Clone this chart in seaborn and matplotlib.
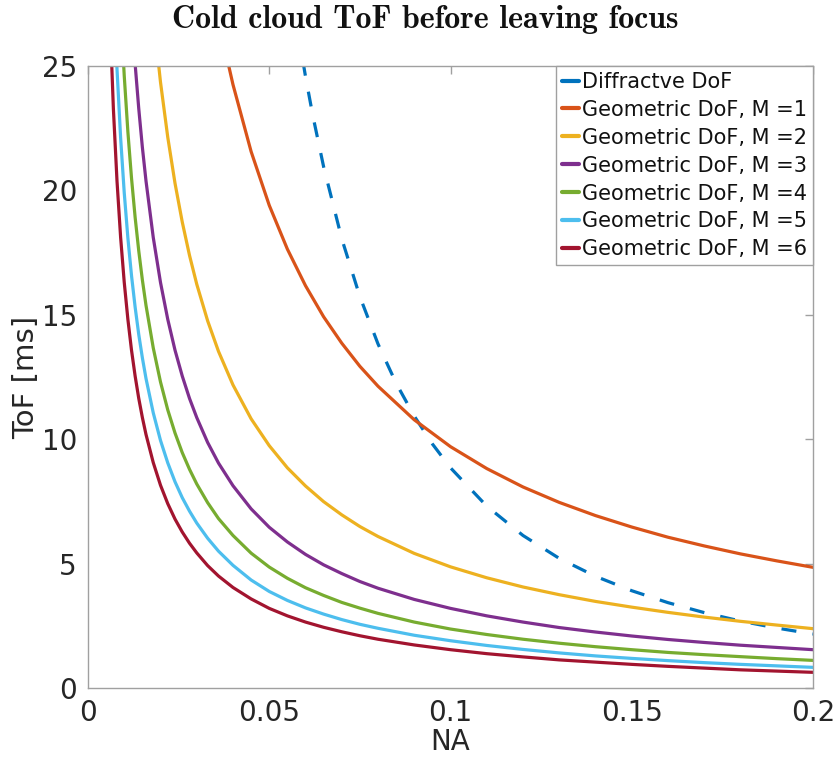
import matplotlib
matplotlib.use("Agg")
import matplotlib.pyplot as plt
import seaborn as sns
import pandas as pd

# ---------------- data ----------------
series_labels = ["Diffractve DoF",
                 "Geometric DoF, M =1", "Geometric DoF, M =2", "Geometric DoF, M =3",
                 "Geometric DoF, M =4", "Geometric DoF, M =5", "Geometric DoF, M =6"]

na_diffractive = [0.055, 0.058, 0.060, 0.062, 0.065, 0.070, 0.075, 0.080, 0.085, 0.090,
                  0.095, 0.100, 0.110, 0.120, 0.130, 0.140, 0.150, 0.160, 0.170, 0.180,
                  0.190, 0.200]
tof_diffractive = [29.26, 26.31, 24.58, 23.02, 20.95, 18.06, 15.73, 13.83, 12.25, 10.93,
                   9.81, 8.85, 7.31, 6.13, 5.21, 4.49, 3.91, 3.43, 3.03, 2.69,
                   2.41, 2.17]

na_m1 = [0.035, 0.038, 0.040, 0.045, 0.050, 0.055, 0.060, 0.065, 0.070, 0.075, 0.080,
         0.090, 0.100, 0.110, 0.120, 0.130, 0.140, 0.150, 0.160, 0.170, 0.180, 0.190, 0.200]
tof_m1 = [27.71, 25.53, 24.25, 21.56, 19.40, 17.64, 16.17, 14.92, 13.86, 12.93, 12.13,
          10.78, 9.70, 8.82, 8.08, 7.46, 6.93, 6.47, 6.06, 5.71, 5.39, 5.11, 4.85]

na_common = [0.005, 0.006, 0.007, 0.008, 0.009, 0.010, 0.011, 0.012, 0.013, 0.014,
             0.015, 0.016, 0.018, 0.020, 0.022, 0.024, 0.026, 0.028, 0.030, 0.033,
             0.036, 0.040, 0.045, 0.050, 0.055, 0.060, 0.065, 0.070, 0.075, 0.080,
             0.090, 0.100, 0.110, 0.120, 0.130, 0.140, 0.150, 0.160, 0.170, 0.180,
             0.190, 0.200]
tof_m2 = [97.4, 81.17, 69.57, 60.88, 54.11, 48.70, 44.27, 40.58, 37.46, 34.79,
          32.47, 30.44, 27.06, 24.35, 22.14, 20.29, 18.73, 17.39, 16.23, 14.76,
          13.53, 12.18, 10.82, 9.74, 8.85, 8.12, 7.49, 6.96, 6.49, 6.09,
          5.41, 4.87, 4.43, 4.06, 3.75, 3.48, 3.25, 3.04, 2.85, 2.68,
          2.53, 2.385]
tof_m3 = [65.2, 54.33, 46.57, 40.75, 36.22, 32.60, 29.64, 27.17, 25.08, 23.29,
          21.73, 20.38, 18.11, 16.30, 14.82, 13.58, 12.54, 11.64, 10.87, 9.87,
          9.04, 8.13, 7.20, 6.46, 5.87, 5.37, 4.95, 4.60, 4.28, 4.01,
          3.56, 3.20, 2.90, 2.65, 2.43, 2.25, 2.09, 1.95, 1.83, 1.72,
          1.63, 1.54]
tof_m4 = [49.2, 41.0, 35.14, 30.75, 27.33, 24.60, 22.36, 20.50, 18.92, 17.57,
          16.40, 15.38, 13.67, 12.30, 11.18, 10.25, 9.46, 8.79, 8.20, 7.45,
          6.81, 6.13, 5.42, 4.86, 4.41, 4.03, 3.72, 3.44, 3.21, 3.00,
          2.65, 2.37, 2.15, 1.96, 1.80, 1.66, 1.54, 1.43, 1.34, 1.26,
          1.18, 1.11]
tof_m5 = [39.8, 33.17, 28.43, 24.88, 22.11, 19.90, 18.09, 16.58, 15.31, 14.21,
          13.27, 12.44, 11.06, 9.95, 9.05, 8.29, 7.65, 7.11, 6.63, 6.02,
          5.50, 4.93, 4.34, 3.88, 3.52, 3.22, 2.97, 2.75, 2.56, 2.40,
          2.12, 1.90, 1.71, 1.55, 1.41, 1.29, 1.19, 1.10, 1.02, 0.95,
          0.89, 0.83]
tof_m6 = [32.6, 27.17, 23.29, 20.38, 18.11, 16.30, 14.82, 13.58, 12.54, 11.64,
          10.87, 10.19, 9.06, 8.15, 7.41, 6.79, 6.27, 5.82, 5.43, 4.92,
          4.50, 4.04, 3.58, 3.20, 2.90, 2.65, 2.44, 2.26, 2.10, 1.96,
          1.73, 1.54, 1.38, 1.25, 1.13, 1.04, 0.95, 0.87, 0.80, 0.73,
          0.68, 0.63]

x_ticks = [0, 0.05, 0.1, 0.15, 0.2]
x_tick_labels = ["0", "0.05", "0.1", "0.15", "0.2"]
y_ticks = [0, 5, 10, 15, 20, 25]
y_tick_labels = ["0", "5", "10", "15", "20", "25"]

# ---------------- build long table ----------------
parts = [(series_labels[0], na_diffractive, tof_diffractive),
         (series_labels[1], na_m1, tof_m1),
         (series_labels[2], na_common, tof_m2),
         (series_labels[3], na_common, tof_m3),
         (series_labels[4], na_common, tof_m4),
         (series_labels[5], na_common, tof_m5),
         (series_labels[6], na_common, tof_m6)]
frames = [pd.DataFrame({"NA": xs, "ToF": ys, "series": lab}) for lab, xs, ys in parts]
df = pd.concat(frames, ignore_index=True)

colors = ["#0072BD", "#D95319", "#EDB120", "#7E2F8E", "#77AC30", "#4DBEEE", "#A2142F"]
palette = dict(zip(series_labels, colors))
dashes = {lab: "" for lab in series_labels}
dashes[series_labels[0]] = (4.7, 5.1)

# ---------------- plotting ----------------
sns.set_style("white")
plt.rcParams["font.family"] = ["DejaVu Sans"]

W, H = 837, 758
fig = plt.figure(figsize=(W / 100, H / 100), dpi=100)
left, right, top, bottom = 88, 813, 66, 688
ax = fig.add_axes([left / W, 1 - bottom / H, (right - left) / W, (bottom - top) / H])

sns.lineplot(data=df, x="NA", y="ToF", hue="series", style="series",
             hue_order=series_labels, style_order=series_labels,
             palette=palette, dashes=dashes, linewidth=2.3,
             estimator=None, sort=False, ax=ax, legend="full")

ax.set_xlim(0, 0.2)
ax.set_ylim(0, 25)
ax.set_xticks(x_ticks)
ax.set_xticklabels(x_tick_labels)
ax.set_yticks(y_ticks)
ax.set_yticklabels(y_tick_labels)

spine_col = "#a0a0a0"
for s in ax.spines.values():
    s.set_visible(True)
    s.set_color(spine_col)
    s.set_linewidth(1.0)
ax.tick_params(direction="in", top=True, right=True, length=6, width=1,
               color=spine_col, labelcolor="#262626", labelsize=20, pad=8)

ax.set_xlabel("NA", fontsize=20, color="#262626", labelpad=1)
ax.set_ylabel("ToF [ms]", fontsize=21, color="#262626", labelpad=1)

handles, labels = ax.get_legend_handles_labels()
for h in handles:
    h.set_linewidth(3)
    h.set_linestyle("-")
leg = ax.legend(handles, labels, loc="upper right", bbox_to_anchor=(1.0, 1.0),
                borderaxespad=0, fontsize=15, handlelength=0.8, handletextpad=0.15,
                borderpad=0.28, labelspacing=0.38, fancybox=False, framealpha=1,
                edgecolor=spine_col)
leg.get_frame().set_linewidth(1.0)
for t in leg.get_texts():
    t.set_color("#111111")

fig.text(425 / W, 1 - 20 / H, "Cold cloud ToF before leaving focus",
         fontfamily="cmb10", fontsize=23, ha="center", va="center", color="#111111")

fig.savefig("out.png", dpi=100, facecolor="white")
